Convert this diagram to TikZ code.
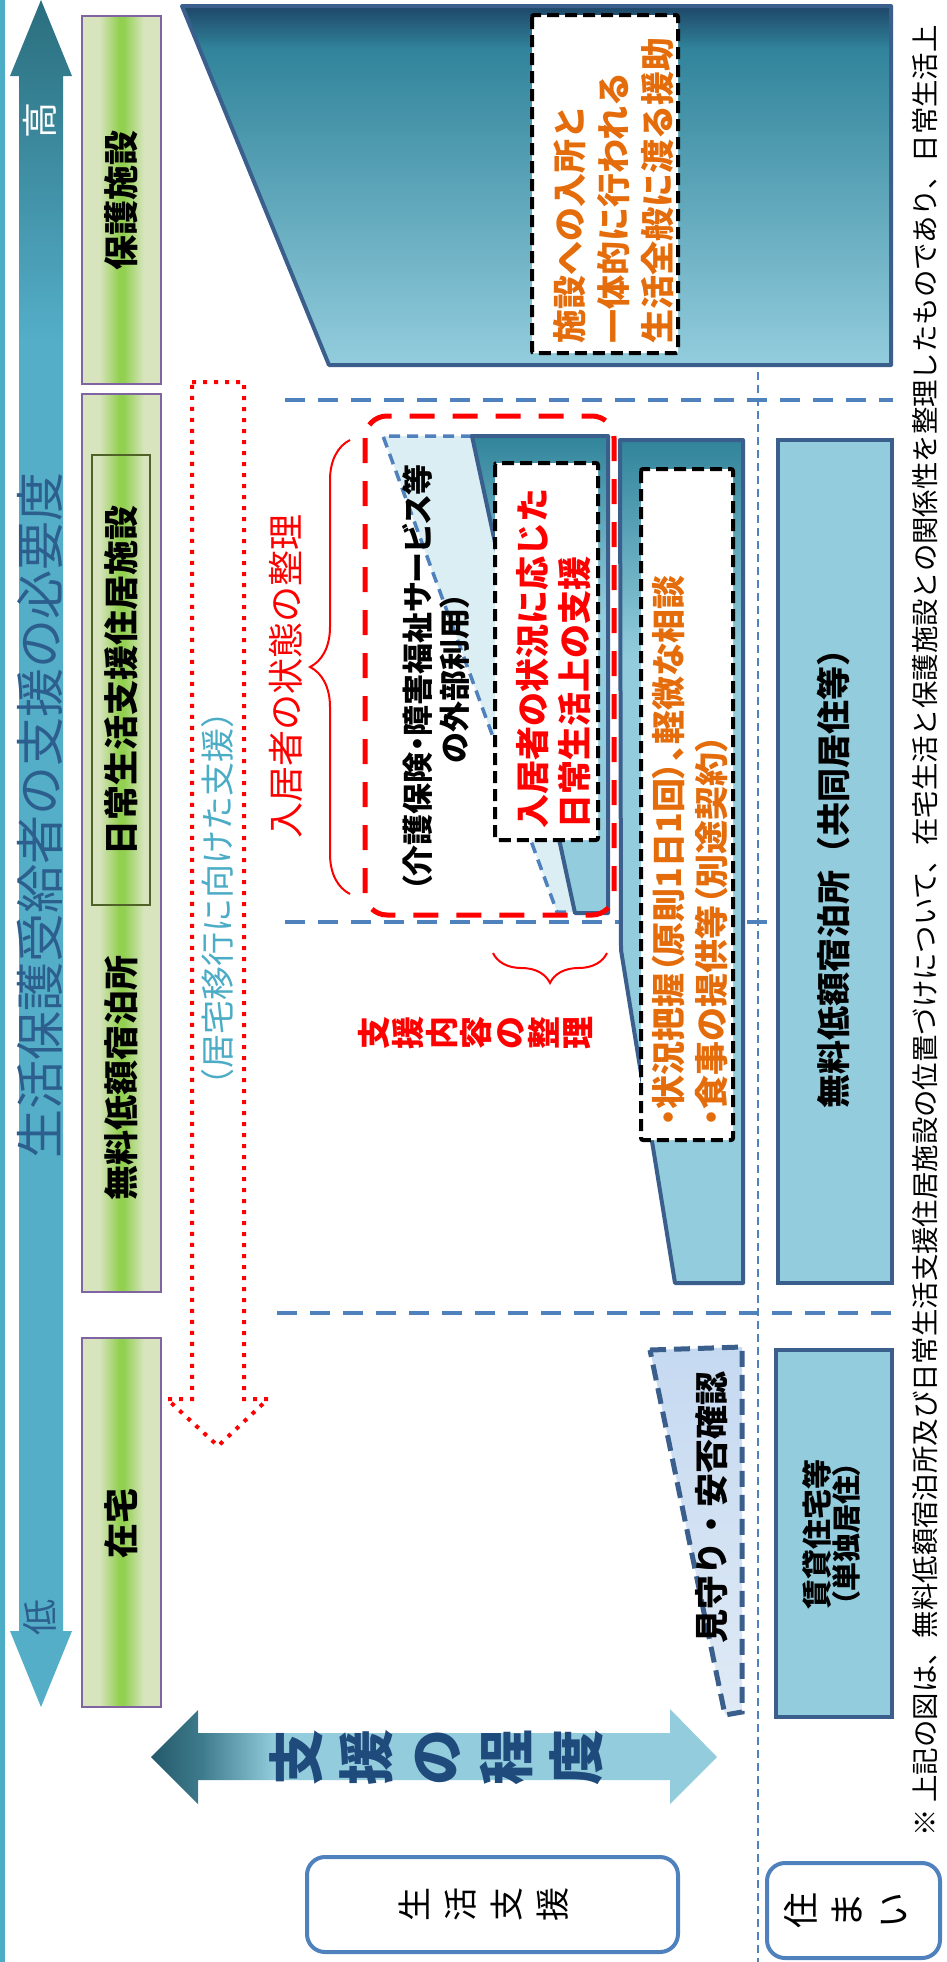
\documentclass[tikz,border=0pt]{standalone}
\usepackage{fontspec}
\setmainfont{Noto Sans CJK JP}
\newfontfamily\jpp[RawFeature=+palt]{Noto Sans CJK JP}
\usetikzlibrary{decorations.pathreplacing}
\definecolor{lineblue}{HTML}{4F81BD}
\definecolor{borderblue}{HTML}{3A5F8C}
\definecolor{cLight}{HTML}{93CDDD}
\definecolor{cTeal}{HTML}{31849B}
\definecolor{cDark}{HTML}{1E4668}
\definecolor{orangetxt}{HTML}{E46C0A}
\definecolor{gGreen}{HTML}{92D050}
\definecolor{gLight}{HTML}{D7E4BD}
\definecolor{boxpurple}{HTML}{8064A2}
\definecolor{olive}{HTML}{4F6228}
\definecolor{cyantxt}{HTML}{4BACC6}
\definecolor{vLight}{HTML}{54AEC8}
\definecolor{vDark}{HTML}{2A6E7E}
\definecolor{titleblue}{HTML}{2D5F8E}
\definecolor{navytxt}{HTML}{1F4A7C}
\definecolor{aDark}{HTML}{245A6B}
\definecolor{aMid}{HTML}{3E7B8C}
\definecolor{paleblue}{HTML}{DAEEF3}
\definecolor{mimaTop}{HTML}{C5D9F1}
\definecolor{mimaBot}{HTML}{DFEAF5}
% visible part of a TikZ shading is 25bp..75bp
\pgfdeclareverticalshading{bigtrap}{100bp}{color(0bp)=(cLight); color(25bp)=(cLight); color(69bp)=(cTeal); color(75bp)=(cDark); color(100bp)=(cDark)}
\pgfdeclareverticalshading{trapTwo}{100bp}{color(0bp)=(cLight); color(56bp)=(cLight); color(75bp)=(cTeal); color(100bp)=(cTeal)}
\pgfdeclareverticalshading{trapThree}{100bp}{color(0bp)=(cLight); color(62bp)=(cLight); color(75bp)=(cTeal); color(100bp)=(cTeal)}
\pgfdeclareverticalshading{leftarrow}{100bp}{color(0bp)=(vLight); color(65bp)=(vLight); color(75bp)=(vDark); color(100bp)=(vDark)}
\pgfdeclarehorizontalshading{greenbar}{100bp}{color(0bp)=(gLight); color(36bp)=(gLight); color(48.5bp)=(gGreen); color(51.5bp)=(gGreen); color(64bp)=(gLight); color(100bp)=(gLight)}
\pgfdeclarehorizontalshading{degreearrow}{100bp}{color(0bp)=(aDark); color(25bp)=(aDark); color(29.5bp)=(aMid); color(36bp)=(cLight); color(100bp)=(cLight)}
\begin{document}
\begin{tikzpicture}[x=1pt,y=-1pt,
  vtext/.style={rotate=90, inner sep=0pt, outer sep=0pt},
  sepline/.style={draw=lineblue, line width=4pt, dash pattern=on 20pt off 13pt},
  vline/.style={draw=lineblue, line width=2pt, dash pattern=on 8pt off 5pt},
  greenbox/.style={draw=boxpurple, line width=1.2pt, shading=greenbar},
  tealborder/.style={draw=borderblue, line width=4pt, line join=round},
  blackdash/.style={draw=black, fill=white, line width=4pt, dash pattern=on 12pt off 6pt, rounded corners=2pt},
  roundbox/.style={draw=lineblue, fill=white, line width=4pt, rounded corners=18pt},
  plainbox/.style={draw=borderblue, fill=cLight, line width=4pt},
  redbrace/.style={draw=red, line width=2pt, decorate, decoration={brace, amplitude=#1}}
]
\useasboundingbox (0,0) rectangle (947,1962);
\fill[white] (0,0) rectangle (947,1962);

% separators
\draw[sepline] (285,400) -- (893,400);
\draw[sepline] (285,922) -- (893,922);
\draw[sepline] (277,1313) -- (892,1313);
\draw[vline] (758,372) -- (758,1962);

% left axis
\fill[cyantxt] (0,0) rectangle (5,1962);
\path[shading=leftarrow] (41,0) -- (72,76) -- (63,76) -- (63,1631) -- (72,1631) -- (41,1707) -- (10,1631) -- (19,1631) -- (19,76) -- (10,76) -- cycle;
\node[vtext, font=\fontsize{49}{54}\selectfont, text=titleblue] (title) at (40,815) {生活保護受給者の支援の必要度};
\node[vtext, font=\fontsize{36}{40}\selectfont, text=white] (high) at (40,120) {高};
\node[vtext, font=\fontsize{36}{40}\selectfont, text=titleblue] (low) at (40,1617) {低};

% green category bars
\draw[greenbox] (82,16) rectangle (161,384);
\node[vtext, font=\fontsize{35}{40}\selectfont\bfseries] (hogo) at (121,200) {保護施設};
\draw[greenbox] (82,394) rectangle (161,1292);
\draw[draw=olive, line width=2.5pt] (92,455) rectangle (150,905);
\node[vtext, font=\fontsize{35}{40}\selectfont\bfseries] (nichijo) at (121,680) {日常生活支援住居施設};
\node[vtext, font=\fontsize{35}{40}\selectfont\bfseries] (muryo) at (121,1078) {無料低額宿泊所};
\draw[greenbox] (82,1338) rectangle (161,1707);
\node[vtext, font=\fontsize{35}{40}\selectfont\bfseries] (zaitaku) at (121,1523) {在宅};

% red dotted arrow
\draw[red, line width=4pt, dash pattern=on 4pt off 7pt] (192,382) -- (244,382) -- (244,1399) -- (268,1399) -- (218,1446) -- (167,1399) -- (192,1399) -- cycle;
\node[vtext, font=\fontsize{34}{38}\selectfont, text=cyantxt] (ikou) at (218,898) {（居宅移行に向けた支援）};

% big trapezoid (protection facility)
\path[shading=bigtrap] (182,6) -- (891,6) -- (891,365) -- (329,365) -- cycle;
\draw[tealborder] (182,6) -- (891,6) -- (891,365) -- (329,365) -- cycle;
\draw[blackdash] (532,15) rectangle (678,353);
\node[vtext, anchor=west, align=left, font=\fontsize{34}{44}\selectfont\bfseries, text=orangetxt] (shisetsu) at (614,343) {施設への入所と\\一体的に行われる\\生活全般に渡る援助};

% light trapezoid: external services
\fill[paleblue] (383,436) -- (605,436) -- (605,912) -- (557,912) -- cycle;
\draw[draw=lineblue, line width=3.5pt, dash pattern=on 11pt off 7pt] (472,436) -- (383,436) -- (557,912) -- (578,912);
\node[vtext, align=center, font=\jpp\fontsize{31}{37}\selectfont\bfseries] (gaibu) at (436,678) {（介護保険・障害福祉サービス等\\の外部利用）};

% teal shape 2
\path[shading=trapTwo] (472,436) -- (608,436) -- (608,913) -- (575,913) -- cycle;
\draw[tealborder] (472,436) -- (608,436) -- (608,913) -- (575,913) -- cycle;
\draw[blackdash] (495,463) rectangle (598,840);
\node[vtext, anchor=west, align=left, font=\fontsize{34}{42}\selectfont\bfseries, text=red] (jokyo) at (554,828) {入居者の状況に応じた\\日常生活上の支援};

% red dashed frame and brace
\draw[red, line width=5pt, dash pattern=on 25pt off 18pt, rounded corners=22pt] (365,416) rectangle (614,915);
\draw[redbrace=40pt] (350,894) -- (350,440);
\node[vtext, font=\fontsize{36}{40}\selectfont, text=red] (jotai) at (286,676) {入居者の状態の整理};

% teal shape 3
\path[shading=trapThree] (620,440) -- (743,440) -- (743,1283) -- (675,1283) -- (621,950) -- cycle;
\draw[tealborder] (620,440) -- (743,440) -- (743,1283) -- (675,1283) -- (621,950) -- cycle;
\draw[blackdash] (641,469) rectangle (733,1140);
\node[vtext, anchor=west, align=left, font=\jpp\fontsize{34}{43}\selectfont\bfseries, text=orangetxt] (haaku) at (690,1126) {・状況把握（原則1日1回）、軽微な相談\\・食事の提供等（別途契約）};

% brace 2
\draw[redbrace=30pt] (607,953) -- (493,953);
\node[vtext, align=center, font=\fontsize{33}{34}\selectfont\bfseries, text=red] (naiyo) at (475,1033) {支\\援\\内\\容\\の\\整\\理};

% housing boxes
\draw[plainbox] (778,440) rectangle (892,1283);
\node[vtext, font=\fontsize{34}{38}\selectfont\bfseries] (kyodo) at (834,870) {無料低額宿泊所（共同居住等）};
\draw[plainbox] (776,1350) rectangle (892,1717);
\node[vtext, align=center, font=\jpp\bfseries] (chintai) at (832,1534) {{\fontsize{30}{38}\selectfont 賃貸住宅等}\\{\fontsize{29}{38}\selectfont （単独居住）}};

% mimamori
\path[top color=mimaTop, bottom color=mimaBot] (650,1350) -- (742,1347) -- (742,1712) -- (725,1715) -- cycle;
\draw[draw=borderblue, line width=5pt, dash pattern=on 16pt off 8pt] (650,1350) -- (742,1347) -- (742,1712) -- (725,1715) -- cycle;
\node[vtext, font=\fontsize{34}{38}\selectfont\bfseries] (mima) at (712,1507) {見守り・安否確認};

% degree arrow
\path[shading=degreearrow] (151,1757) -- (198,1710) -- (198,1733) -- (670,1733) -- (670,1709) -- (717,1757) -- (670,1804) -- (670,1780) -- (198,1780) -- (198,1804) -- cycle;
\node[vtext, align=center, font=\fontsize{56}{70}\selectfont\bfseries, text=navytxt] (degree) at (436,1757) {支\\援\\の\\程\\度};

% row labels
\draw[roundbox] (307,1857) rectangle (678,1952);
\node[vtext, align=center, font=\fontsize{34}{46}\selectfont] (seikatsu) at (484,1904) {生\\活\\支\\援};
\draw[roundbox] (767,1863) rectangle (940,1958);
\node[vtext, align=center, font=\fontsize{36}{46}\selectfont] (sumai) at (845,1910) {住\\ま\\い};

% footnote
\node[vtext, anchor=west, font=\fontsize{27.4}{32}\selectfont] (note) at (925,1836) {※ 上記の図は、無料低額宿泊所及び日常生活支援住居施設の位置づけについて、在宅生活と保護施設との関係性を整理したものであり、日常生活上};
\end{tikzpicture}
\end{document}
